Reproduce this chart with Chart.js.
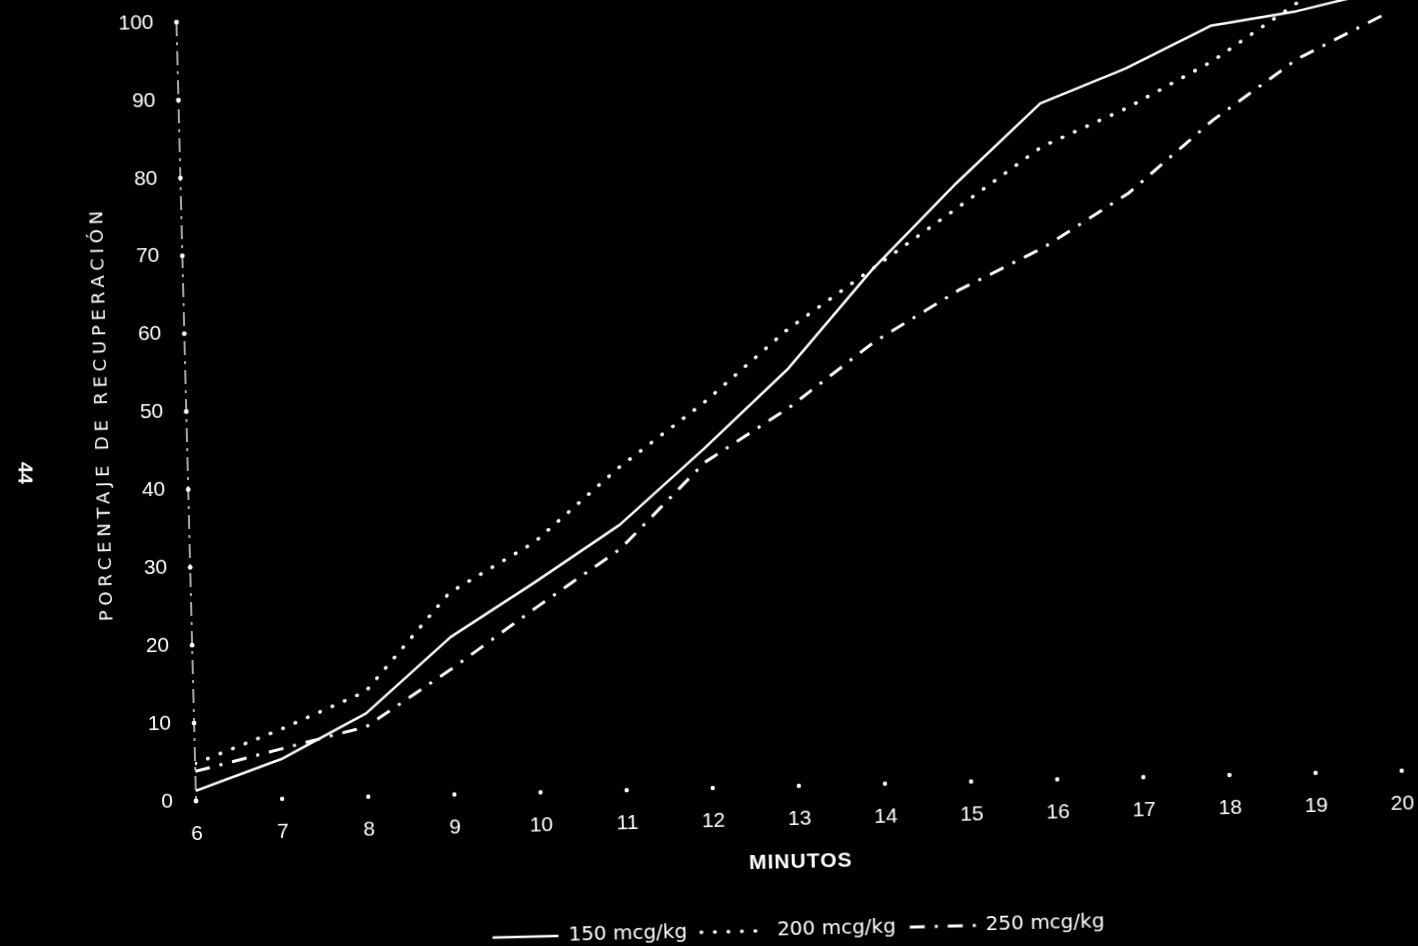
<!DOCTYPE html>
<html>
<head>
<meta charset="utf-8">
<script src="https://cdn.jsdelivr.net/npm/chart.js@4.4.1/dist/chart.umd.min.js"></script>
<style>
  html, body { margin: 0; padding: 0; background: #000; overflow: hidden; width: 1418px; height: 946px; }
  #wrap { position: absolute; left: 0; top: 0; width: 1418px; height: 965px;
          transform-origin: 196px 799px; transform: rotate(-1.44deg); }
  #c { display: block; }
  #page { position: absolute; left: 25px; top: 473px; transform: translate(-50%, -50%) rotate(90deg);
          color: #fff; font: bold 20px "Liberation Sans", Arial, sans-serif; }
</style>
</head>
<body>
<div id="wrap"><canvas id="c" width="1418" height="965"></canvas></div>
<div id="page">44</div>
<script>
// ---- data ----
const minutes = [6, 7, 8, 9, 10, 11, 12, 13, 14, 15, 16, 17, 18, 19, 20];
const rec150 = [1.3, 5.1, 10.7, 20.2, 27.0, 34.1, 43.6, 53.6, 66.0, 76.8, 86.8, 91.0, 96.2, 97.8, 100.2];
const rec200 = [4.8, 8.9, 13.5, 25.9, 32.1, 41.4, 49.4, 58.6, 66.1, 73.6, 81.2, 85.9, 91.6, 98.8, 105.0];
const rec250 = [3.8, 6.4, 9.0, 16.1, 23.7, 31.0, 41.8, 48.6, 56.7, 63.1, 68.3, 75.0, 84.1, 91.7, 97.0];
const seriesLabels = ['150 mcg/kg', '200 mcg/kg', '250 mcg/kg'];
const xTitle = 'MINUTOS';
const yTitle = 'PORCENTAJE DE RECUPERACIÓN';
const xMin = 6, xMax = 20, xStep = 1;
const yMin = 0, yMax = 100, yStep = 10;

// ---- rendering ----
const W = '#ffffff';
const tickFont = { family: 'Liberation Sans', size: 21 };
const toPts = arr => minutes.map((m, i) => ({ x: m, y: arr[i] }));

const axisMarks = {
  id: 'axisMarks',
  afterDatasetsDraw(chart) {
    const { ctx, chartArea: a, scales: { x, y } } = chart;
    ctx.save();
    // dashed vertical value axis
    ctx.strokeStyle = W;
    ctx.lineWidth = 1.3;
    ctx.setLineDash([14, 6, 3, 6]);
    ctx.beginPath();
    ctx.moveTo(a.left, y.getPixelForValue(yMax));
    ctx.lineTo(a.left, y.getPixelForValue(yMin));
    ctx.stroke();
    ctx.setLineDash([]);
    // tick dots
    ctx.fillStyle = W;
    y.ticks.forEach(t => {
      ctx.beginPath(); ctx.arc(a.left, y.getPixelForValue(t.value), 2.4, 0, Math.PI * 2); ctx.fill();
    });
    x.ticks.forEach(t => {
      ctx.beginPath(); ctx.arc(x.getPixelForValue(t.value), y.getPixelForValue(yMin), 2.2, 0, Math.PI * 2); ctx.fill();
    });
    ctx.restore();
  }
};

const titleSpacing = {
  id: 'titleSpacing',
  beforeDraw(chart) {
    [['x', '1px'], ['y', '4.8px']].forEach(([id, sp]) => {
      const s = chart.scales[id];
      if (s && !s._spacingPatched) {
        const orig = s.drawTitle;
        s.drawTitle = function () {
          const c = this.ctx;
          c.save(); c.letterSpacing = sp; orig.call(this); c.restore();
        };
        s._spacingPatched = true;
      }
    });
  }
};

const legendShift = {
  id: 'legendShift',
  afterLayout(chart) {
    const lg = chart.legend;
    if (!lg) return;
    const d = 795 - (lg.left + lg.right) / 2;
    lg.left += d; lg.right += d;
  }
};

new Chart(document.getElementById('c'), {
  type: 'line',
  data: {
    datasets: [
      { label: seriesLabels[0], data: toPts(rec150), borderColor: W, backgroundColor: W,
        borderWidth: 2.5, pointRadius: 0, tension: 0, borderJoinStyle: 'round' },
      { label: seriesLabels[1], data: toPts(rec200), borderColor: W, backgroundColor: W,
        borderWidth: 3.5, borderDash: [0.5, 13], borderCapStyle: 'round', pointRadius: 0, tension: 0 },
      { label: seriesLabels[2], data: toPts(rec250), borderColor: W, backgroundColor: W,
        borderWidth: 3, borderDash: [15, 10, 3, 10], pointRadius: 0, tension: 0 }
    ]
  },
  options: {
    responsive: false,
    animation: false,
    devicePixelRatio: 1,
    layout: { padding: { left: 0, right: 16, top: 22, bottom: 0 } },
    plugins: {
      legend: {
        position: 'bottom',
        labels: {
          color: W,
          font: { family: 'DejaVu Sans', size: 20 },
          usePointStyle: true,
          pointStyle: 'line',
          pointStyleWidth: 66,
          padding: 14,
          generateLabels(chart) {
            return chart.data.datasets.map((ds, i) => ({
              text: ds.label,
              fillStyle: W,
              strokeStyle: W,
              fontColor: W,
              lineWidth: ds.borderWidth,
              lineDash: ds.borderDash || [],
              lineCap: ds.borderCapStyle || 'butt',
              pointStyle: 'line',
              hidden: false,
              datasetIndex: i
            }));
          }
        }
      },
      tooltip: { enabled: false }
    },
    scales: {
      x: {
        type: 'linear', min: xMin, max: xMax,
        ticks: { stepSize: xStep, color: W, font: tickFont, padding: 0, autoSkip: false },
        grid: { display: false, drawTicks: true, tickLength: 21 },
        border: { display: false },
        title: { display: true, text: xTitle, color: W,
                 font: { family: 'Liberation Sans', size: 21, weight: 'bold' },
                 padding: { top: 0, bottom: 31 } },
        afterFit(s) { s.height = 120; }
      },
      y: {
        min: yMin, max: yMax,
        ticks: { stepSize: yStep, color: W, font: tickFont, padding: 0 },
        grid: { display: false, drawTicks: true, tickLength: 23 },
        border: { display: false },
        title: { display: true, text: yTitle, color: W,
                 font: { family: 'DejaVu Sans', size: 18 },
                 padding: { top: 102, bottom: 0 } },
        afterFit(s) { s.width = 196; }
      }
    }
  },
  plugins: [axisMarks, titleSpacing, legendShift]
});
</script>
</body>
</html>
